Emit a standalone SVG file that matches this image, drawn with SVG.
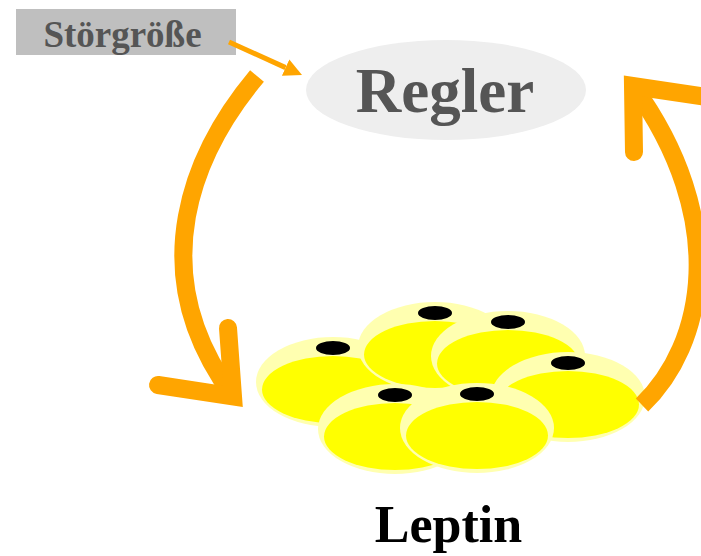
<svg xmlns="http://www.w3.org/2000/svg" width="701" height="556" viewBox="0 0 701 556">
<style>
.lbl{font-family:"Liberation Serif","Times New Roman",serif;font-weight:bold;text-anchor:middle}
.big{fill:none;stroke:#ffa500;stroke-width:18}
.head{fill:none;stroke:#ffa500;stroke-width:18;stroke-linecap:round;stroke-linejoin:miter;stroke-miterlimit:10}
.outer{fill:#ffffb0}
.inner{fill:#ffff00}
.nuc{fill:#000}
</style>
<defs>
<marker id="tri" viewBox="0 0 18 18" refX="0" refY="9" markerWidth="18" markerHeight="18" markerUnits="userSpaceOnUse" orient="auto">
<path d="M0,0 L18,9 L0,18 Z" fill="#ffa500"/>
</marker>
<g id="cell">
<ellipse class="outer" cx="0" cy="0" rx="77" ry="45"/>
<ellipse class="inner" cx="0" cy="7.5" rx="71" ry="33.5"/>
<ellipse class="nuc" cx="0" cy="-34" rx="17" ry="7"/>
</g>
</defs>
<rect x="0" y="0" width="701" height="556" fill="#fff"/>
<g id="stoergroesse">
<rect x="16" y="9" width="220" height="46" fill="#bfbfbf"/>
<text class="lbl" x="122.5" y="47" font-size="37" fill="#555555">Störgröße</text>
</g>
<g id="regler">
<ellipse cx="446" cy="90" rx="140" ry="50" fill="#eeeeee"/>
<text class="lbl" x="445" y="112" font-size="63" fill="#555555">Regler</text>
</g>
<g id="fettzellen">
<use href="#cell" x="333" y="382"/>
<use href="#cell" x="435" y="347"/>
<use href="#cell" x="508" y="356"/>
<use href="#cell" x="568" y="397"/>
<use href="#cell" x="395" y="429"/>
<use href="#cell" x="477" y="428"/>
</g>
<g id="leptin">
<text class="lbl" x="448.5" y="542" font-size="52" fill="#000">Leptin</text>
</g>
<g id="connectors">
<line x1="229" y1="42" x2="285.6" y2="67.6" stroke="#ffa500" stroke-width="5" marker-end="url(#tri)"/>
<path class="big" d="M257,76 C195,150 140,270 233,396"/>
<polyline class="head" points="228,328 233,396.5 158,385"/>
<path class="big" d="M642,405 C705,345 730,220 633,86"/>
<polyline class="head" points="634,152 633,86 720,99"/>
</g>
</svg>
